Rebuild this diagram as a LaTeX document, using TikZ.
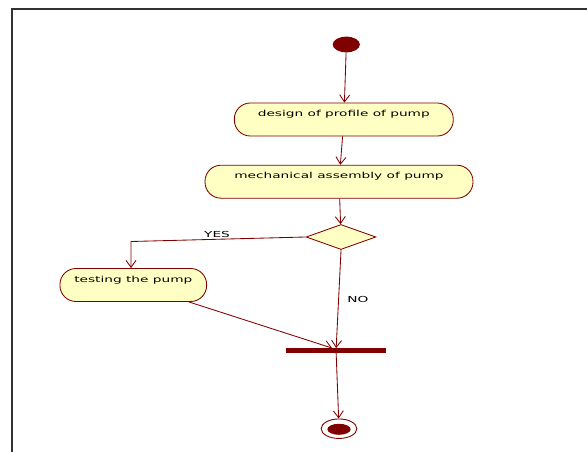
\documentclass[tikz,border=0pt]{standalone}
\usepackage{fontspec}
\setmainfont{DejaVu Sans}
\usetikzlibrary{shapes.geometric,arrows.meta,calc}
\definecolor{umlred}{RGB}{128,0,0}
\definecolor{umlfill}{RGB}{255,255,196}
\definecolor{framegray}{RGB}{50,50,50}
\begin{document}
\begin{tikzpicture}[x=0.60606pt,y=-1pt,xscale=1.65,transform shape,
  font=\fontsize{8.3}{10}\selectfont,
  flow/.style={draw=umlred,line width=0.85pt,-{Straight Barb[length=7pt,width=10pt]}},
  action/.style={draw=umlred,fill=umlfill,line width=0.85pt,rectangle,
    rounded corners=16pt,minimum height=33pt,inner sep=0pt,
    text height=7pt,text depth=13pt},
  initial/.style={ellipse,fill=umlred,draw=none,inner sep=0pt,
    minimum width=16.5pt,minimum height=15.7pt},
  decision/.style={diamond,draw=umlred,fill=umlfill,line width=0.85pt,
    inner sep=0pt,aspect=1.7,minimum width=42.4pt,minimum height=25pt},
  joinbar/.style={rectangle,fill=umlred,draw=none,inner sep=0pt,
    minimum width=60.6pt,minimum height=4.5pt},
  finalring/.style={ellipse,draw=umlred,line width=0.9pt,inner sep=0pt,
    minimum width=21.6pt,minimum height=19.5pt},
  finaldot/.style={ellipse,fill=umlred,draw=none,inner sep=0pt,
    minimum width=14.1pt,minimum height=11pt},
  guard/.style={inner sep=0pt,text=black}]
  \useasboundingbox (0,0) rectangle (587,452);
  % window frame
  \draw[framegray,line width=2pt] (11.5,452) -- (11.5,9.5) -- (587,9.5);

  % activity nodes
  \node[initial] (start) at (346.3,44.5) {};
  \node[action,minimum width=132.7pt] (a1) at (343.8,119.5) {design of profile of pump};
  \node[action,minimum width=162.4pt] (a2) at (339,181.7) {mechanical assembly of pump};
  \node[decision] (dec) at (341,237) {};
  \node[action,minimum width=88.9pt] (test) at (133.3,285) {testing the pump};
  \node[joinbar] (bar) at (336,350.5) {};
  \node[finalring] (fin) at (339,428.7) {};
  \node[finaldot] (findot) at (339,429.3) {};
  \coordinate (ycorner) at (131,241.5);

  % transitions
  \draw[flow] (start) -- (a1);
  \draw[flow] (a1) -- (a2);
  \draw[flow] (a2) -- (dec);
  \draw[flow] (dec.west) -- (ycorner) -- (ycorner |- test.north);
  \draw[flow] (dec.south) -- (bar);
  \draw[flow] ($(test.south)!0.75!(test.south east)$) -- ($(bar.north)+(-4,0)$);
  \draw[flow] (bar) -- (fin);

  % guard labels
  \node[guard] (yes) at (217,234.5) {YES};
  \node[guard] (no) at (358,299.3) {NO};
\end{tikzpicture}
\end{document}
